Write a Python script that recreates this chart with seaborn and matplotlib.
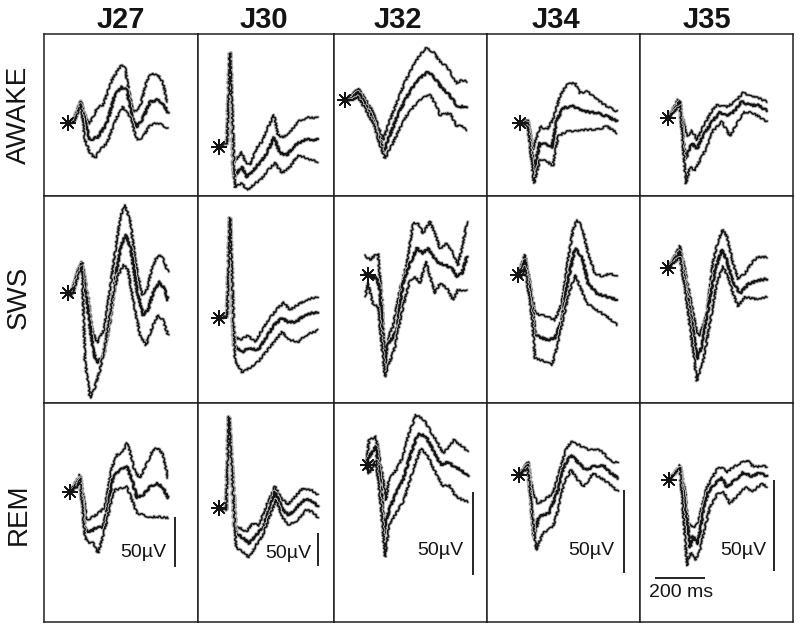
import matplotlib
matplotlib.use("Agg")
import matplotlib.pyplot as plt
import matplotlib.patheffects as pe
import seaborn as sns

sns.set_style("white")
plt.rcParams['font.family'] = ['Liberation Sans', 'DejaVu Sans']

# ---------------- data: time (ms from stimulus), amplitude (uV) ----------------
animals = ["J27", "J30", "J32", "J34", "J35"]
states = ["AWAKE", "SWS", "REM"]

AWAKE_J27 = {
    "upper": ([0, 24, 52, 72, 84, 104, 116, 140, 176, 200, 216, 228, 248, 260, 288, 316, 336, 360, 380, 396],
              [0, 5, 22, 5, -1, 8, 15, 18, 43, 53, 58, 55, 26, 10, 16, 43, 50, 48, 40, 21]),
    "mean": ([0, 24, 52, 72, 88, 120, 156, 188, 216, 236, 256, 276, 300, 328, 356, 380, 400],
             [0, 3, 21, -2, -17, -14, 0, 28, 36, 33, 5, -4, 5, 21, 23, 20, 10]),
    "lower": ([0, 24, 52, 68, 88, 108, 128, 156, 196, 220, 248, 276, 300, 328, 360, 400],
              [0, 1, 19, -17, -30, -35, -27, -20, 6, 16, 6, -17, -14, -2, 0, -5]),
}
AWAKE_J30 = {
    "upper": ([0, 32, 44, 56, 92, 104, 124, 152, 172, 192, 220, 236, 256, 292, 316, 352, 396],
              [0, 6, 141, -24, -8, -22, -27, 0, 8, 26, 48, 18, 14, 26, 38, 44, 44]),
    "mean": ([0, 32, 44, 60, 92, 112, 136, 172, 192, 220, 244, 272, 304, 344, 396],
             [0, 6, 141, -45, -30, -45, -35, -20, -9, 14, -9, -12, 3, 11, 11]),
    "lower": ([0, 32, 44, 64, 92, 112, 136, 172, 196, 224, 252, 284, 316, 352, 396],
              [0, 6, 141, -60, -54, -65, -57, -47, -35, -24, -39, -30, -12, -17, -23]),
}
AWAKE_J32 = {
    "upper": ([0, 28, 52, 84, 108, 132, 152, 180, 212, 240, 268, 300, 324, 352, 380, 408, 428, 448, 468, 488],
              [0, 3, 7, 0, -6, -15, -24, -12, 0, 11, 19, 27, 31, 29, 23, 20, 15, 10, 12, 11]),
    "mean": ([0, 28, 52, 84, 108, 132, 156, 180, 212, 240, 268, 300, 332, 360, 388, 412, 432, 452, 488],
             [0, 1, 5, -3, -11, -21, -31, -21, -9, 0, 7, 13, 17, 13, 7, 4, 0, -4, -4]),
    "lower": ([0, 28, 52, 84, 116, 140, 160, 188, 220, 248, 280, 308, 340, 364, 380, 420, 448, 468, 488],
              [0, 0, 2, -6, -15, -27, -35, -27, -17, -9, -3, 1, 3, -3, -9, -8, -16, -15, -18]),
}
AWAKE_J34 = {
    "upper": ([0, 32, 52, 80, 108, 132, 160, 188, 220, 240, 268, 308, 348, 388],
              [0, 2, -16, -2, -4, 2, 16, 23, 24, 18, 19, 14, 10, 7]),
    "mean": ([0, 32, 56, 80, 108, 128, 148, 172, 212, 252, 308, 348, 388],
             [0, 0, -28, -12, -13, -15, 2, 9, 10, 7, 6, 4, 1]),
    "lower": ([0, 32, 56, 80, 108, 132, 152, 188, 228, 268, 308, 348, 388],
              [0, -2, -36, -22, -23, -26, -8, -5, -5, -4, -4, -2, -6]),
}
AWAKE_J35 = {
    "upper": ([0, 40, 56, 76, 96, 116, 140, 176, 196, 236, 276, 300, 328, 360, 396],
              [0, 10, 1, -10, -7, -12, -5, 4, 7, 6, 10, 14, 12, 11, 9]),
    "mean": ([0, 48, 68, 96, 116, 140, 176, 208, 236, 260, 296, 328, 360, 396],
             [0, 9, -23, -14, -17, -10, -2, 3, 1, 3, 9, 7, 7, 4]),
    "lower": ([0, 48, 72, 88, 108, 128, 156, 180, 216, 248, 276, 300, 336, 360, 396],
              [0, 7, -36, -27, -29, -23, -16, -7, -2, -10, -3, 3, 3, 1, -2]),
}
SWS_J27 = {
    "upper": ([0, 16, 40, 56, 76, 96, 116, 144, 168, 192, 212, 228, 248, 272, 296, 316, 336, 360, 380, 400],
              [0, 3, 23, 31, 3, -37, -50, -37, 3, 48, 78, 88, 73, 28, -2, 3, 25, 38, 35, 21]),
    "mean": ([0, 16, 40, 56, 80, 100, 116, 144, 168, 192, 212, 232, 252, 276, 300, 320, 344, 368, 388, 400],
             [0, 0, 21, 30, -17, -57, -70, -62, -27, 18, 48, 58, 43, 3, -22, -17, 3, 11, 3, -7]),
    "lower": ([0, 16, 40, 56, 68, 88, 104, 128, 152, 176, 200, 224, 240, 264, 288, 312, 336, 360, 380, 400],
              [0, -3, 17, 27, -67, -105, -97, -77, -47, -7, 18, 28, 23, -12, -42, -52, -35, -22, -27, -42]),
}
SWS_J30 = {
    "upper": ([0, 32, 44, 56, 84, 116, 144, 172, 204, 236, 260, 284, 316, 348, 396],
              [0, 3, 150, -26, -33, -26, -36, -18, 0, 15, 23, 12, 20, 27, 32]),
    "mean": ([0, 32, 44, 60, 92, 124, 156, 188, 220, 252, 276, 308, 344, 396],
             [0, 3, 150, -41, -51, -45, -48, -30, -11, 0, -6, -6, 5, 9]),
    "lower": ([0, 32, 44, 64, 92, 124, 156, 188, 220, 252, 284, 316, 348, 396],
              [0, 3, 150, -63, -81, -75, -66, -51, -36, -21, -33, -36, -26, -18]),
}
SWS_J32 = {
    "upper": ([-12, 8, 28, 40, 56, 64, 88, 100, 128, 156, 180, 200, 220, 248, 268, 288, 316, 340, 360, 380, 396],
              [12, 9, 12, 13, -15, -53, -35, -31, -9, 7, 31, 31, 25, 32, 25, 16, 19, 13, 6, 19, 32]),
    "mean": ([-12, 16, 36, 48, 68, 76, 116, 140, 168, 196, 220, 240, 276, 308, 336, 356, 376, 396],
             [1, -1, -2, -9, -54, -43, -33, -5, 7, 16, 13, 16, 8, 6, 4, -1, 1, 11]),
    "lower": ([-12, 0, 20, 40, 68, 76, 108, 140, 168, 188, 208, 232, 268, 288, 316, 340, 360, 396],
              [-13, -5, -17, -19, -61, -57, -43, -19, -3, -1, -5, 8, -11, -5, -8, -15, -9, -9]),
}
SWS_J34 = {
    "upper": ([0, 16, 28, 48, 68, 116, 148, 176, 200, 220, 236, 256, 280, 308, 340, 368, 396],
              [0, 7, 12, -5, -23, -25, -27, -17, 9, 27, 33, 29, 13, 1, -1, 1, -1]),
    "mean": ([0, 16, 28, 56, 68, 116, 148, 176, 200, 228, 256, 280, 316, 356, 396],
             [0, 4, 9, -17, -36, -39, -38, -27, -3, 16, 11, -5, -11, -13, -15]),
    "lower": ([0, 16, 28, 56, 68, 108, 136, 160, 200, 228, 248, 276, 316, 356, 396],
              [0, -1, 5, -25, -50, -52, -54, -41, -13, 0, -7, -17, -21, -25, -30]),
}
SWS_J35 = {
    "upper": ([0, 48, 68, 88, 116, 128, 156, 180, 200, 220, 236, 260, 280, 308, 336, 360, 396],
              [0, 12, -1, -16, -36, -37, -25, 3, 15, 21, 17, 3, -6, -3, 3, 6, 6]),
    "mean": ([0, 48, 76, 100, 116, 136, 160, 188, 216, 236, 260, 288, 320, 356, 396],
             [0, 9, -14, -34, -50, -43, -23, -1, 10, 4, -8, -14, -9, -7, -6]),
    "lower": ([0, 48, 76, 96, 116, 140, 168, 196, 220, 240, 260, 280, 308, 348, 396],
              [0, 6, -19, -41, -62, -52, -30, -8, 1, -5, -14, -21, -16, -17, -16]),
}
REM_J27 = {
    "upper": ([0, 28, 40, 52, 68, 92, 120, 140, 168, 188, 212, 228, 240, 260, 280, 308, 332, 352, 372, 392],
              [0, 12, 17, -1, -28, -25, -20, -15, 25, 37, 40, 49, 40, 20, 14, 29, 42, 44, 37, 14]),
    "mean": ([0, 28, 40, 60, 80, 108, 132, 152, 172, 200, 228, 248, 268, 292, 320, 348, 372, 392],
             [0, 9, 15, -38, -40, -35, -36, -15, 15, 22, 25, 12, -6, -3, 5, 9, 4, -6]),
    "lower": ([0, 28, 40, 60, 72, 92, 112, 132, 160, 180, 208, 228, 248, 268, 292, 320, 360, 392],
              [0, 5, 14, -45, -50, -51, -61, -45, -15, 2, 4, 5, -8, -21, -23, -25, -25, -26]),
}
REM_J30 = {
    "upper": ([0, 28, 40, 60, 80, 108, 136, 160, 188, 224, 248, 276, 300, 336, 368, 396],
              [0, -3, 137, -26, -29, -36, -23, -26, 2, 32, 15, 5, 15, 30, 27, 20]),
    "mean": ([0, 28, 40, 68, 96, 120, 148, 176, 200, 224, 256, 280, 308, 340, 368, 396],
             [0, -3, 137, -38, -45, -53, -41, -29, -3, 24, -3, -11, 0, 12, 12, 2]),
    "lower": ([0, 28, 40, 68, 96, 120, 148, 176, 200, 228, 256, 280, 316, 348, 376, 396],
              [0, -3, 137, -59, -66, -74, -56, -41, -15, 12, -15, -26, -18, -3, -6, -15]),
}
REM_J32 = {
    "upper": ([-8, 4, 32, 52, 72, 84, 112, 140, 164, 192, 224, 244, 272, 300, 324, 344, 380, 400],
              [0, 15, 17, -1, -21, -9, -3, 5, 19, 30, 27, 22, 15, 7, 11, 15, 11, 8]),
    "mean": ([-8, 4, 32, 52, 64, 84, 112, 140, 172, 200, 232, 260, 292, 320, 344, 372, 400],
             [0, 5, 11, -13, -41, -27, -17, -9, 7, 19, 17, 9, 0, 2, -1, -3, -7]),
    "lower": ([-8, 4, 32, 52, 68, 84, 112, 144, 180, 212, 240, 272, 300, 324, 352, 380, 400],
              [0, -5, 3, -25, -55, -37, -29, -21, -3, 10, 5, -5, -13, -12, -19, -21, -22]),
}
REM_J34 = {
    "upper": ([0, 36, 56, 76, 100, 136, 160, 188, 208, 240, 280, 320, 340, 360, 396],
              [0, 8, -11, -17, -15, -11, 1, 15, 20, 18, 15, 15, 13, 9, 7]),
    "mean": ([0, 36, 60, 80, 120, 156, 180, 208, 240, 268, 296, 336, 360, 396],
             [0, 6, -37, -25, -23, -9, 5, 12, 7, 3, 5, 6, 2, -2]),
    "lower": ([0, 36, 68, 96, 136, 156, 180, 208, 236, 260, 296, 328, 360, 396],
              [0, 4, -45, -35, -31, -21, -5, 3, -3, -7, 1, -2, -5, -10]),
}
REM_J35 = {
    "upper": ([0, 44, 64, 76, 96, 116, 132, 152, 172, 192, 212, 232, 256, 284, 312, 332, 352, 372, 392],
              [0, 8, -6, -24, -26, -24, -15, -4, 1, 6, 7, 4, 7, 9, 11, 8, 7, 8, 7]),
    "mean": ([0, 44, 72, 84, 96, 116, 136, 156, 184, 212, 232, 264, 296, 332, 364, 392],
             [0, 7, -22, -37, -31, -35, -18, -7, -2, 1, -4, 0, 4, 2, 4, 2]),
    "lower": ([0, 44, 72, 88, 104, 124, 144, 164, 192, 216, 244, 272, 304, 336, 372, 392],
              [0, 7, -47, -40, -44, -39, -26, -15, -8, -6, -13, -9, -4, -6, -2, -4]),
}

PANELS = {
    "AWAKE": [AWAKE_J27, AWAKE_J30, AWAKE_J32, AWAKE_J34, AWAKE_J35],
    "SWS": [SWS_J27, SWS_J30, SWS_J32, SWS_J34, SWS_J35],
    "REM": [REM_J27, REM_J30, REM_J32, REM_J34, REM_J35],
}

scale_uv = 50      # vertical calibration bar (uV)
scale_ms = 200     # horizontal calibration bar (ms)

# ---------------- layout (pixels of an 800x628 canvas) ----------------
W, H = 800, 628
col_edges = [44, 198, 334, 487, 640, 793]
row_edges = [34, 196, 403, 622]
MS_PER_PX = 4.0
UV_PER_PX = [1.0, 1.5, 0.6, 0.6, 0.55]
STIM_PX = {
    "AWAKE": [(68, 123), (219, 147), (345, 100), (520, 123), (668, 118)],
    "SWS": [(68, 293), (219, 318), (368, 275), (518, 275), (668, 268)],
    "REM": [(70, 492), (219, 508), (368, 465), (519, 475), (669, 480)],
}
BAR_T = [420, 396, 420, 420, 420]
BAR_V0 = [-75, -87, -66, -59, -50]
LABEL_PX = [(166, 557), (311, 558), (463, 555), (614, 555), (766, 555)]
TITLE_X = [121, 264, 398, 556, 707]
ROW_Y = [115, 297, 514]

INK = "#141414"
STYLE = {"upper": 1.1, "mean": 1.6, "lower": 1.1}

fig = plt.figure(figsize=(W / 100, H / 100), dpi=100)
fig.patch.set_facecolor("white")

for r, state in enumerate(states):
    for c, animal in enumerate(animals):
        x0, x1 = col_edges[c], col_edges[c + 1]
        y0, y1 = row_edges[r], row_edges[r + 1]
        ax = fig.add_axes([x0 / W, 1 - y1 / H, (x1 - x0) / W, (y1 - y0) / H])
        xs, yb = STIM_PX[state][c]
        g = UV_PER_PX[c]
        ax.set_xlim((x0 - xs) * MS_PER_PX, (x1 - xs) * MS_PER_PX)
        ax.set_ylim((yb - y1) * g, (yb - y0) * g)
        panel = PANELS[state][c]
        for name in ["upper", "mean", "lower"]:
            t, v = panel[name]
            sns.lineplot(x=t, y=v, ax=ax, color=INK, lw=STYLE[name],
                         sort=False, estimator=None, legend=False)
        for ln in ax.lines:
            ln.set_sketch_params(scale=0.9, length=3.0, randomness=6.0)
            ln.set_path_effects([pe.Stroke(linewidth=ln.get_linewidth() + 1.3,
                                           foreground="#b8b8b8"), pe.Normal()])
        # stimulus artifact
        ax.scatter([0, 0], [0, 0], marker=(8, 2, 0), s=[110, 50], c=INK,
                   linewidths=1.0, zorder=3)
        ax.set_xticks([])
        ax.set_yticks([])
        ax.set_xlabel("")
        ax.set_ylabel("")
        for sp in ax.spines.values():
            sp.set_color("#202020")
            sp.set_linewidth(1.1)
            sp.set_visible(True)
        if state == "REM":
            ax.plot([BAR_T[c], BAR_T[c]], [BAR_V0[c], BAR_V0[c] + scale_uv],
                    color=INK, lw=1.3, solid_capstyle="butt")
            lx, ly = LABEL_PX[c]
            fig.text(lx / W, 1 - ly / H, "50\u00b5V", ha="right", va="baseline",
                     fontsize=14, color=INK)
            if c == 4:
                v_bar = (yb - 578) * g
                ax.plot([-56, -56 + scale_ms], [v_bar, v_bar], color=INK, lw=1.3,
                        solid_capstyle="butt")
                ax.text(-56 + scale_ms / 2 + 4, (yb - 597) * g, "200 ms", ha="center",
                        va="baseline", fontsize=14, color=INK)

for c, animal in enumerate(animals):
    fig.text(TITLE_X[c] / W, 1 - 28 / H, animal, ha="center", va="baseline",
             fontsize=21, fontweight="bold", color=INK)
for r, state in enumerate(states):
    fig.text(19 / W, 1 - ROW_Y[r] / H, state, ha="center", va="center",
             rotation=90, fontsize=20, color=INK)

fig.savefig("out.png", dpi=100, facecolor="white")
